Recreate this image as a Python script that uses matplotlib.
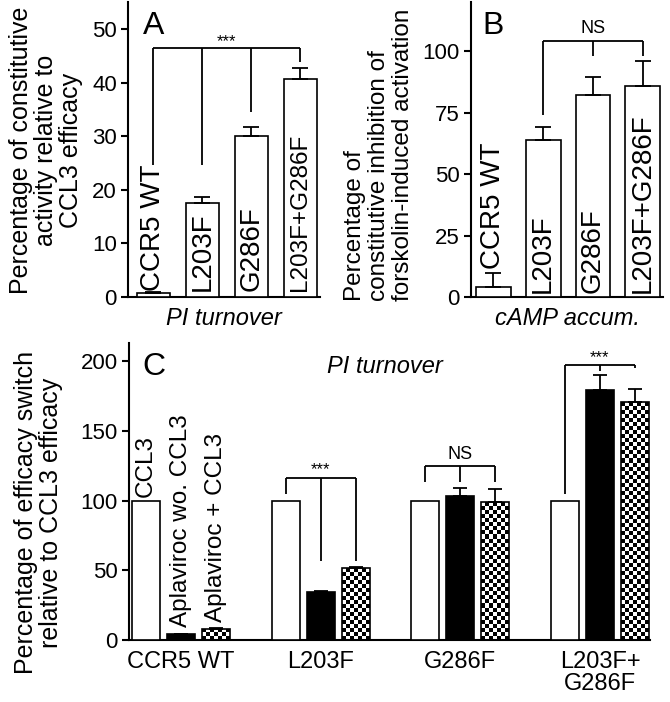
import numpy as np
import matplotlib
matplotlib.use("Agg")
import matplotlib.pyplot as plt

plt.rcParams['font.family'] = ['Liberation Sans', 'DejaVu Sans']

# panel A: PI turnover, constitutive activity
a_labels = ["CCR5 WT", "L203F", "G286F", "L203F+G286F"]
a_vals = [0.7, 17.5, 30.0, 40.6]
a_err = [0.2, 1.2, 1.7, 2.1]

# panel B: cAMP accumulation
b_labels = ["CCR5 WT", "L203F", "G286F", "L203F+G286F"]
b_vals = [4.0, 64.0, 82.3, 86.0]
b_err = [5.8, 5.0, 7.4, 9.9]

# panel C: efficacy switch
c_groups = ["CCR5 WT", "L203F", "G286F", "L203F+\nG286F"]
c_ccl3 = [100, 100, 100, 100]
c_apl = [4.0, 34.3, 103.2, 179.0]
c_apl_err = [0.4, 0.8, 5.8, 11.0]
c_apl_ccl3 = [8.0, 51.3, 98.7, 170.4]
c_apl_ccl3_err = [0.8, 0.8, 9.3, 9.6]
c_bar_names = ["CCL3", "Aplaviroc wo. CCL3", "Aplaviroc + CCL3"]

LW = 1.5


def style_axis(ax):
    for s in ["top", "right"]:
        ax.spines[s].set_visible(False)
    for s in ["left", "bottom"]:
        ax.spines[s].set_linewidth(LW)
    ax.tick_params(axis="y", direction="out", length=5, width=LW, labelsize=16, pad=3)
    ax.tick_params(axis="x", length=0)


def bracket(ax, y, legs, lw=1.3):
    xs = [l[0] for l in legs]
    ax.plot([min(xs), max(xs)], [y, y], color="black", lw=lw, solid_capstyle="butt")
    for x, yb in legs:
        ax.plot([x, x], [y, yb], color="black", lw=lw, solid_capstyle="butt")


def checker_fill(ax, rect, cell_px=4):
    x0 = rect.get_x()
    w = rect.get_width()
    h = rect.get_height()
    p0 = ax.transData.transform((x0, 0))
    p1 = ax.transData.transform((x0 + w, h))
    nc = max(1, int(round(abs(p1[0] - p0[0]) / cell_px)))
    nr = max(1, int(round(abs(p1[1] - p0[1]) / cell_px)))
    ii, jj = np.meshgrid(np.arange(nc), np.arange(nr))
    arr = ((ii + jj) % 2).astype(float)
    im = ax.imshow(arr, cmap="gray", extent=[x0, x0 + w, 0, h], aspect="auto",
                   interpolation="nearest", origin="lower", zorder=2)
    im.set_clip_path(rect)


fig = plt.figure(figsize=(6.7, 7.02), dpi=100)

# ---------------- A ----------------
axA = fig.add_axes([0.191, 0.577, 0.287, 0.42])
xa = np.arange(len(a_vals))
axA.bar(xa, a_vals, width=0.68, color="white", edgecolor="black", linewidth=1.2, zorder=3)
axA.errorbar(xa, a_vals, yerr=[np.zeros(4), a_err], fmt="none", ecolor="black",
             elinewidth=1.3, capsize=6, capthick=1.3, zorder=4)
axA.set_xlim(-0.52, 3.41)
axA.set_ylim(0, 55)
axA.set_yticks([0, 10, 20, 30, 40, 50])
axA.set_xticks([])
style_axis(axA)
for x, lab in zip(xa, a_labels):
    fs = 17.5 if "+" in lab else 20
    axA.text(x, 1.2, lab, rotation=90, ha="center", va="bottom", fontsize=fs, zorder=5)
bracket(axA, 46.4, [(0, 24.7), (1, 24.7), (2, 34.5), (3, 43.8)])
axA.text(1.5, 46.2, "***", ha="center", va="bottom", fontsize=12)
axA.text(0.08, 0.97, "A", transform=axA.transAxes, ha="left", va="top", fontsize=23)
axA.text(0.5, -0.035, "PI turnover", transform=axA.transAxes, ha="center", va="top",
         fontsize=17, style="italic")
fig.text(0.068, 0.786, "Percentage of constitutive\nactivity relative to\nCCL3 efficacy",
         rotation=90, ha="center", va="center", multialignment="center", fontsize=18,
         linespacing=1.05)

# ---------------- B ----------------
axB = fig.add_axes([0.703, 0.577, 0.287, 0.42])
xb = np.arange(len(b_vals))
axB.bar(xb, b_vals, width=0.7, color="white", edgecolor="black", linewidth=1.2, zorder=3)
axB.errorbar(xb, b_vals, yerr=[np.zeros(4), b_err], fmt="none", ecolor="black",
             elinewidth=1.3, capsize=6, capthick=1.3, zorder=4)
axB.set_xlim(-0.45, 3.41)
axB.set_ylim(0, 120)
axB.set_yticks([0, 25, 50, 75, 100])
axB.set_xticks([])
style_axis(axB)
for x, v, e, lab in zip(xb, b_vals, b_err, b_labels):
    base = v + e + 1.5 if x == 0 else 1.8
    axB.text(x, base, lab, rotation=90, ha="center", va="bottom", fontsize=20, zorder=5)
bracket(axB, 104, [(1, 74), (2, 98), (3, 98)])
axB.text(2, 106, "NS", ha="center", va="bottom", fontsize=13)
axB.text(0.06, 0.97, "B", transform=axB.transAxes, ha="left", va="top", fontsize=23)
axB.text(0.5, -0.035, "cAMP accum.", transform=axB.transAxes, ha="center", va="top",
         fontsize=17, style="italic")
fig.text(0.566, 0.779, "Percentage of\nconstitutive inhibition of\nforskolin-induced activation",
         rotation=90, ha="center", va="center", multialignment="left", fontsize=17.5,
         linespacing=1.12)

# ---------------- C ----------------
axC = fig.add_axes([0.1925, 0.0883, 0.778, 0.423])
axC.set_xlim(-1.49, 13.44)
axC.set_ylim(0, 213)
gx = np.arange(len(c_groups)) * 4.0
bw = 0.8
axC.bar(gx - 1, c_ccl3, width=bw, color="white", edgecolor="black", linewidth=1.2, zorder=3)
axC.bar(gx, c_apl, width=bw, color="black", edgecolor="black", linewidth=1.2, zorder=3)
chk = axC.bar(gx + 1, c_apl_ccl3, width=bw, color="white", edgecolor="black",
              linewidth=1.2, zorder=3)
for r in chk:
    r.set_facecolor("none")
    checker_fill(axC, r)
axC.errorbar(gx, c_apl, yerr=[np.zeros(4), c_apl_err], fmt="none", ecolor="black",
             elinewidth=1.3, capsize=5, capthick=1.3, zorder=4)
axC.errorbar(gx + 1, c_apl_ccl3, yerr=[np.zeros(4), c_apl_ccl3_err], fmt="none",
             ecolor="black", elinewidth=1.3, capsize=5, capthick=1.3, zorder=4)
axC.set_xlim(-1.49, 13.44)
axC.set_ylim(0, 213)
axC.set_yticks([0, 50, 100, 150, 200])
axC.set_xticks(gx)
axC.set_xticklabels(c_groups, fontsize=17, linespacing=1.0)
style_axis(axC)
axC.tick_params(axis="x", pad=8)

axC.text(gx[0] - 1, c_ccl3[0] + 2.5, c_bar_names[0], rotation=90, ha="center", va="bottom",
         fontsize=17.5)
axC.text(gx[0], c_apl[0] + 5, c_bar_names[1], rotation=90, ha="center", va="bottom",
         fontsize=17.5)
axC.text(gx[0] + 1, c_apl_ccl3[0] + 5, c_bar_names[2], rotation=90, ha="center", va="bottom",
         fontsize=17.5)

bracket(axC, 116, [(3, 105), (4, 57), (5, 57)])
axC.text(4, 116.5, "***", ha="center", va="bottom", fontsize=12)
bracket(axC, 125, [(7, 113), (8, 113), (9, 113)])
axC.text(8, 127, "NS", ha="center", va="bottom", fontsize=13)
bracket(axC, 197, [(11, 105), (12, 193), (13, 195)])
axC.text(12, 197.5, "***", ha="center", va="bottom", fontsize=12)

axC.text(0.025, 0.97, "C", transform=axC.transAxes, ha="left", va="top", fontsize=23)
axC.text(0.49, 0.922, "PI turnover", transform=axC.transAxes, ha="center", va="center",
         fontsize=17, style="italic")
fig.text(0.057, 0.27, "Percentage of efficacy switch\nrelative to CCL3 efficacy",
         rotation=90, ha="center", va="center", multialignment="center", fontsize=18,
         linespacing=1.05)

fig.savefig("out.png", dpi=100)
